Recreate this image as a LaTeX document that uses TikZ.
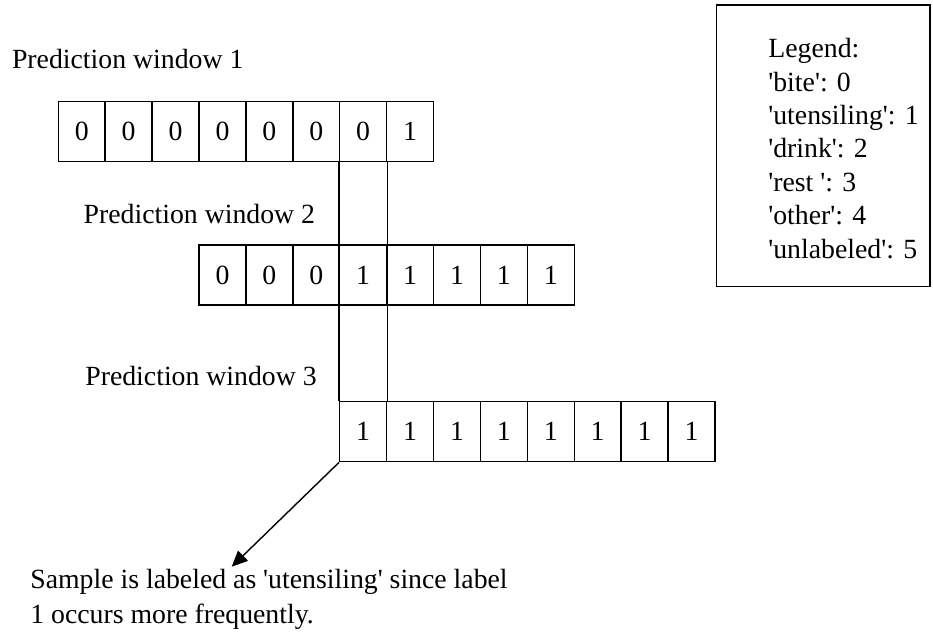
\documentclass[tikz,border=0pt]{standalone}
\usepackage{fontspec}
\setmainfont{Liberation Serif}
\usetikzlibrary{arrows.meta}
\newcommand{\q}{\textquotesingle}

\begin{document}
\begin{tikzpicture}[
    every node/.style={font=\fontsize{15.8pt}{19pt}\selectfont},
    cell/.style={rectangle, draw, line width=0.8pt, minimum width=0.938cm, minimum height=1.2cm, inner sep=0pt, text centered},
    title/.style={anchor=base west, inner sep=0pt},
    legendframe/.style={rectangle, draw, line width=0.8pt, minimum width=4.266cm, minimum height=5.634cm},
    note/.style={anchor=north west, align=left, inner sep=0pt},
    line/.style={line width=0.8pt},
    arrow/.style={-{Triangle[length=9pt, width=8pt]}, line width=0.8pt}
]
\useasboundingbox (0,0) rectangle (18.66,12.64);

% window 1
\node[title] (t1) at (0.234, 11.274) {Prediction window 1};
\node[cell] (w1c1) at (1.635, 10.006) {0};
\node[cell] (w1c2) at (2.573, 10.006) {0};
\node[cell] (w1c3) at (3.511, 10.006) {0};
\node[cell] (w1c4) at (4.449, 10.006) {0};
\node[cell] (w1c5) at (5.387, 10.006) {0};
\node[cell] (w1c6) at (6.325, 10.006) {0};
\node[cell] (w1c7) at (7.263, 10.006) {0};
\node[cell] (w1c8) at (8.201, 10.006) {1};

% window 2
\node[title] (t2) at (1.667, 8.174) {Prediction window 2};
\node[cell] (w2c1) at (4.449, 7.14) {0};
\node[cell] (w2c2) at (5.387, 7.14) {0};
\node[cell] (w2c3) at (6.325, 7.14) {0};
\node[cell] (w2c4) at (7.263, 7.14) {1};
\node[cell] (w2c5) at (8.201, 7.14) {1};
\node[cell] (w2c6) at (9.139, 7.14) {1};
\node[cell] (w2c7) at (10.077, 7.14) {1};
\node[cell] (w2c8) at (11.015, 7.14) {1};

% window 3
\node[title] (t3) at (1.7, 4.94) {Prediction window 3};
\node[cell] (w3c1) at (7.263, 4.006) {1};
\node[cell] (w3c2) at (8.201, 4.006) {1};
\node[cell] (w3c3) at (9.139, 4.006) {1};
\node[cell] (w3c4) at (10.077, 4.006) {1};
\node[cell] (w3c5) at (11.015, 4.006) {1};
\node[cell] (w3c6) at (11.953, 4.006) {1};
\node[cell] (w3c7) at (12.891, 4.006) {1};
\node[cell] (w3c8) at (13.829, 4.006) {1};

% legend
\node[legendframe] (legend) at (16.467, 9.723) {};
\node[note] (legendtext) at (15.36, 11.878) {Legend:\\\q bite\q: 0\\\q utensiling\q: 1\\\q drink\q: 2\\\q rest \q: 3\\\q other\q: 4\\\q unlabeled\q: 5};

% caption
\node[note, font=\fontsize{15.8pt}{20pt}\selectfont] (caption) at (0.6, 1.258) {Sample is labeled as \q utensiling\q{} since label\\1 occurs more frequently.};
\coordinate (tip) at (4.634, 1.306);

\draw[line] (w1c7.south west) -- (w3c1.north west);
\draw[line] (w1c7.south east) -- (w3c1.north east);
\draw[arrow] (w3c1.south west) -- (tip);

\end{tikzpicture}
\end{document}
